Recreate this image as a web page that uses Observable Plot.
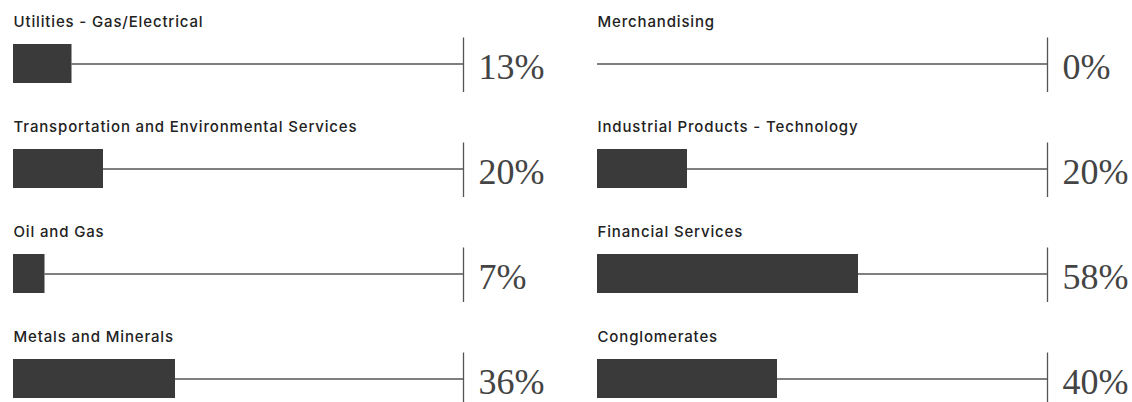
<!DOCTYPE html>
<html>
<head>
<meta charset="utf-8">
<script src="https://cdn.jsdelivr.net/npm/d3@7"></script>
<script src="https://cdn.jsdelivr.net/npm/@observablehq/plot@0.6"></script>
<style>
  html, body { margin: 0; padding: 0; background: #fff; }
  g[font-family="Inter"] { letter-spacing: 0.85px; }
</style>
</head>
<body>
<div id="chart"></div>
<script>
const categories = [
  "Utilities - Gas/Electrical",
  "Transportation and Environmental Services",
  "Oil and Gas",
  "Metals and Minerals",
  "Merchandising",
  "Industrial Products - Technology",
  "Financial Services",
  "Conglomerates"
];
const values = [13, 20, 7, 36, 0, 20, 58, 40];
const rowsPerColumn = 4;

const data = categories.map((name, i) => ({
  name,
  value: values[i],
  col: Math.floor(i / rowsPerColumn),
  row: i % rowsPerColumn
}));

const chart = Plot.plot({
  width: 1132,
  height: 402,
  marginLeft: 12,
  marginRight: 84,
  marginTop: 0,
  marginBottom: 0,
  style: { background: "#fff" },
  fx: { domain: [0, 1], paddingInner: 0.229, paddingOuter: 0, axis: null },
  x: { domain: [0, 100], axis: null },
  y: { domain: [0, 1, 2, 3], type: "band", range: [43, 400], paddingInner: 0.626, paddingOuter: 0, axis: null },
  marks: [
    Plot.ruleY(data, { fx: "col", y: "row", x1: "value", x2: 100, stroke: "#555", strokeWidth: 1.3 }),
    Plot.barX(data, { fx: "col", y: "row", x1: 0, x2: "value", fill: "#3a3a3a" }),
    Plot.tickX(data, { fx: "col", y: "row", x: () => 100, stroke: "#555", strokeWidth: 1.3, insetTop: -6.5, insetBottom: -9 }),
    Plot.text(data, {
      fx: "col", y: "row", x: () => 0, text: "name",
      textAnchor: "start", lineAnchor: "bottom", dy: -37.5,
      fontFamily: "Inter", fontSize: 15, fontWeight: 500, fill: "#222"
    }),
    Plot.text(data, {
      fx: "col", y: "row", x: () => 100, text: d => d.value + "%",
      textAnchor: "start", lineAnchor: "middle", dx: 15, dy: 3,
      fontFamily: "Liberation Serif", fontSize: 36, fill: "#444"
    })
  ]
});
document.getElementById("chart").appendChild(chart);
</script>
</body>
</html>
